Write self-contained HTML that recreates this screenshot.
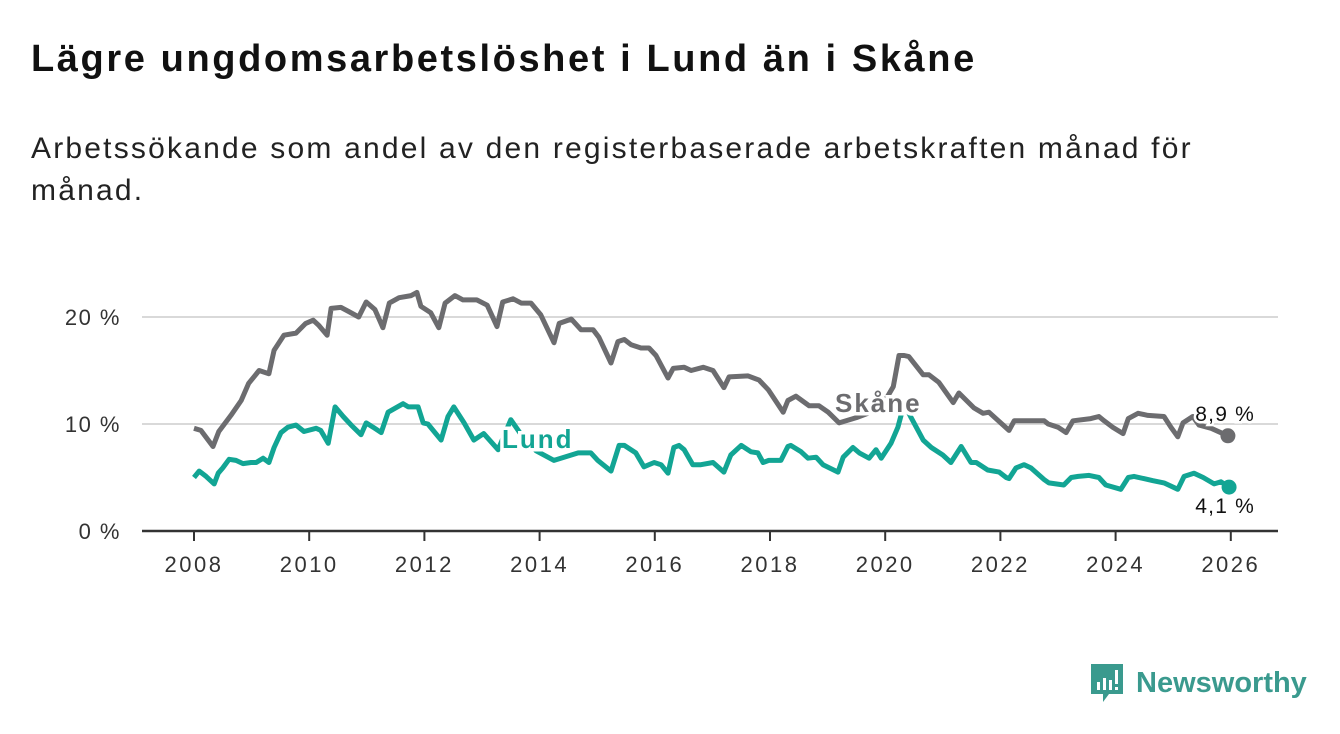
<!DOCTYPE html>
<html><head><meta charset="utf-8">
<style>
body{margin:0;background:#fff;width:1340px;height:734px;overflow:hidden;font-family:"Liberation Sans","DejaVu Sans",sans-serif;}
#title{position:absolute;left:31px;top:38px;font-size:38px;font-weight:bold;color:#111;margin:0;letter-spacing:2.6px;white-space:nowrap}
#sub{position:absolute;left:31px;top:128px;font-size:30px;color:#222;line-height:42px;width:1250px;margin:0;letter-spacing:2.2px;white-space:nowrap}
svg{position:absolute;left:0;top:0}
</style></head><body>
<h1 id="title">Lägre ungdomsarbetslöshet i Lund än i Skåne</h1>
<p id="sub">Arbetssökande som andel av den registerbaserade arbetskraften månad för<br>månad.</p>
<svg id="chart" width="1340" height="734"></svg>
<div style="position:absolute;left:1089px;top:662px;height:42px;display:flex;align-items:center">
<svg width="36" height="42" viewBox="0 0 36 42" style="position:static"><path d="M2 2h32v30H20l-6 8v-8H2z" fill="#3a9a8e"/><rect x="8" y="20" width="3" height="8" fill="#fff"/><rect x="14" y="16" width="3" height="12" fill="#fff"/><rect x="20" y="18" width="3" height="10" fill="#fff"/><rect x="26" y="8" width="3" height="14" fill="#fff"/><rect x="26" y="25" width="3" height="3" fill="#fff"/></svg>
<span style="font-size:29px;color:#3a9a8e;margin-left:11px;font-weight:bold">Newsworthy</span></div>
<script>
const yTicks=[0,10,20];
const xTicks=[2008,2010,2012,2014,2016,2018,2020,2022,2024,2026];
const skaneDates=[2008.00,2008.12,2008.33,2008.43,2008.64,2008.82,2008.95,2009.13,2009.30,2009.39,2009.56,2009.77,2009.94,2010.07,2010.17,2010.31,2010.38,2010.55,2010.69,2010.86,2010.99,2011.14,2011.28,2011.39,2011.56,2011.77,2011.87,2011.94,2012.11,2012.25,2012.36,2012.53,2012.67,2012.91,2013.09,2013.26,2013.36,2013.54,2013.68,2013.85,2014.02,2014.25,2014.34,2014.55,2014.72,2014.93,2015.03,2015.24,2015.36,2015.47,2015.59,2015.76,2015.90,2016.02,2016.23,2016.32,2016.51,2016.63,2016.84,2017.01,2017.20,2017.29,2017.62,2017.81,2017.97,2018.23,2018.31,2018.45,2018.68,2018.85,2019.01,2019.20,2019.5,2019.8,2020.0,2020.14,2020.24,2020.33,2020.41,2020.66,2020.76,2020.93,2021.18,2021.28,2021.54,2021.70,2021.80,2022.15,2022.24,2022.58,2022.76,2022.83,2023.00,2023.14,2023.26,2023.57,2023.71,2023.80,2023.95,2024.13,2024.22,2024.39,2024.56,2024.84,2024.96,2025.08,2025.17,2025.34,2025.45,2025.66,2025.95];
const skaneValues=[9.6,9.4,7.9,9.3,10.8,12.2,13.8,15.0,14.7,16.9,18.3,18.5,19.4,19.7,19.2,18.3,20.8,20.9,20.5,20.0,21.4,20.7,19.0,21.3,21.8,22.0,22.3,21.0,20.4,19.0,21.3,22.0,21.6,21.6,21.1,19.1,21.4,21.7,21.3,21.3,20.2,17.6,19.4,19.8,18.8,18.8,18.1,15.7,17.7,17.9,17.4,17.1,17.1,16.4,14.3,15.2,15.3,15.0,15.3,15.0,13.4,14.4,14.5,14.1,13.2,11.1,12.2,12.6,11.7,11.7,11.1,10.1,10.6,11.2,12.2,13.5,16.4,16.4,16.3,14.6,14.6,13.9,12.0,12.9,11.5,11.0,11.1,9.4,10.3,10.3,10.3,10.0,9.7,9.2,10.3,10.5,10.7,10.3,9.7,9.1,10.5,11.0,10.8,10.7,9.7,8.8,10.1,10.7,9.9,9.6,8.9];
const lundDates=[2008.00,2008.09,2008.21,2008.35,2008.42,2008.50,2008.61,2008.73,2008.85,2008.99,2009.08,2009.20,2009.30,2009.39,2009.51,2009.63,2009.77,2009.91,2010.12,2010.20,2010.33,2010.45,2010.59,2010.73,2010.90,2010.99,2011.11,2011.25,2011.37,2011.63,2011.72,2011.89,2011.98,2012.06,2012.29,2012.41,2012.51,2012.69,2012.86,2013.03,2013.28,2013.50,2013.68,2013.94,2014.25,2014.67,2014.89,2015.01,2015.24,2015.38,2015.47,2015.67,2015.81,2015.99,2016.11,2016.23,2016.33,2016.42,2016.51,2016.66,2016.80,2017.01,2017.20,2017.32,2017.50,2017.67,2017.79,2017.88,2017.98,2018.19,2018.31,2018.36,2018.54,2018.66,2018.80,2018.92,2019.18,2019.27,2019.44,2019.55,2019.72,2019.84,2019.93,2020.10,2020.22,2020.33,2020.45,2020.66,2020.80,2021.00,2021.14,2021.32,2021.49,2021.58,2021.78,2021.98,2022.10,2022.15,2022.27,2022.41,2022.53,2022.76,2022.84,2023.10,2023.23,2023.35,2023.54,2023.71,2023.83,2024.09,2024.22,2024.32,2024.49,2024.65,2024.84,2025.08,2025.19,2025.36,2025.52,2025.71,2025.83,2025.97];
const lundValues=[5.0,5.6,5.1,4.4,5.4,5.9,6.7,6.6,6.3,6.4,6.4,6.8,6.4,7.8,9.2,9.7,9.9,9.3,9.6,9.4,8.2,11.6,10.7,9.9,9.0,10.1,9.7,9.2,11.1,11.9,11.6,11.6,10.1,10.0,8.5,10.7,11.6,10.1,8.5,9.1,7.6,10.4,9.0,7.5,6.6,7.3,7.3,6.6,5.6,8.0,8.0,7.3,6.0,6.4,6.2,5.4,7.8,8.0,7.6,6.2,6.2,6.4,5.5,7.1,8.0,7.4,7.3,6.4,6.6,6.6,7.9,8.0,7.4,6.8,6.9,6.2,5.5,6.9,7.8,7.3,6.8,7.6,6.8,8.2,9.7,11.9,10.6,8.5,7.8,7.1,6.4,7.9,6.4,6.4,5.7,5.5,5.0,4.9,5.9,6.2,5.9,4.8,4.5,4.3,5.0,5.1,5.2,5.0,4.3,3.9,5.0,5.1,4.9,4.7,4.5,3.9,5.1,5.4,5.0,4.4,4.6,4.1];

const NS='http://www.w3.org/2000/svg';
const svg=document.getElementById('chart');
const X=y=>194+(y-2008)*57.6;
const Y=v=>531-v*10.7;
function mk(tag,attrs,parent){const e=document.createElementNS(NS,tag);for(const k in attrs)e.setAttribute(k,attrs[k]);(parent||svg).appendChild(e);return e;}
yTicks.forEach(t=>{
  if(t>0){const g=mk('line',{x1:142,x2:1278,y1:Y(t),y2:Y(t),stroke:'#d9d9d9','stroke-width':2});
  
  }
  const l=mk('text',{x:121,y:Y(t)+8,'text-anchor':'end','font-size':22,'letter-spacing':1.5,fill:'#333'});
  l.textContent=t+' %';
  
  
});
const ax=mk('line',{x1:142,x2:1278,y1:531,y2:531,stroke:'#333','stroke-width':2.5});


xTicks.forEach(t=>{
  mk('line',{x1:X(t),x2:X(t),y1:531,y2:541,stroke:'#333','stroke-width':2});
  const l=mk('text',{x:X(t),y:572,'text-anchor':'middle','font-size':22,'letter-spacing':2.5,fill:'#333'});
  l.textContent=t;
  
  
});
function line(d,v,c,name){
  const p=mk('path',{d:d.map((t,i)=>(i?'L':'M')+X(t).toFixed(1)+','+Y(v[i]).toFixed(1)).join(''),fill:'none',stroke:c,'stroke-width':5,'stroke-linejoin':'round'});
  
  
  const n=d.length-1;
  const dot=mk('circle',{cx:X(d[n]),cy:Y(v[n]),r:7.5,fill:c});
  
  
}
line(skaneDates,skaneValues,'#6c6c6f','skane');
line(lundDates,lundValues,'#12a594','lund');
function lab(x,y,txt,c,name,bold,anchor){
  const t=mk('text',{x:x,y:y,'font-size':bold?26:21,'letter-spacing':bold?2:1.2,'font-weight':bold?'bold':'normal',fill:c,stroke:'#fff','stroke-width':bold?7:5,'paint-order':'stroke','text-anchor':anchor||'start'});
  t.textContent=txt;
  
  
}
lab(835,412,'Skåne','#6c6c6f','skane-label',true);
lab(502,448,'Lund','#12a594','lund-label',true);
lab(1255,421,'8,9 %','#111','skane-end-value',false,'end');
lab(1255,513,'4,1 %','#111','lund-end-value',false,'end');
</script>
</body></html>
